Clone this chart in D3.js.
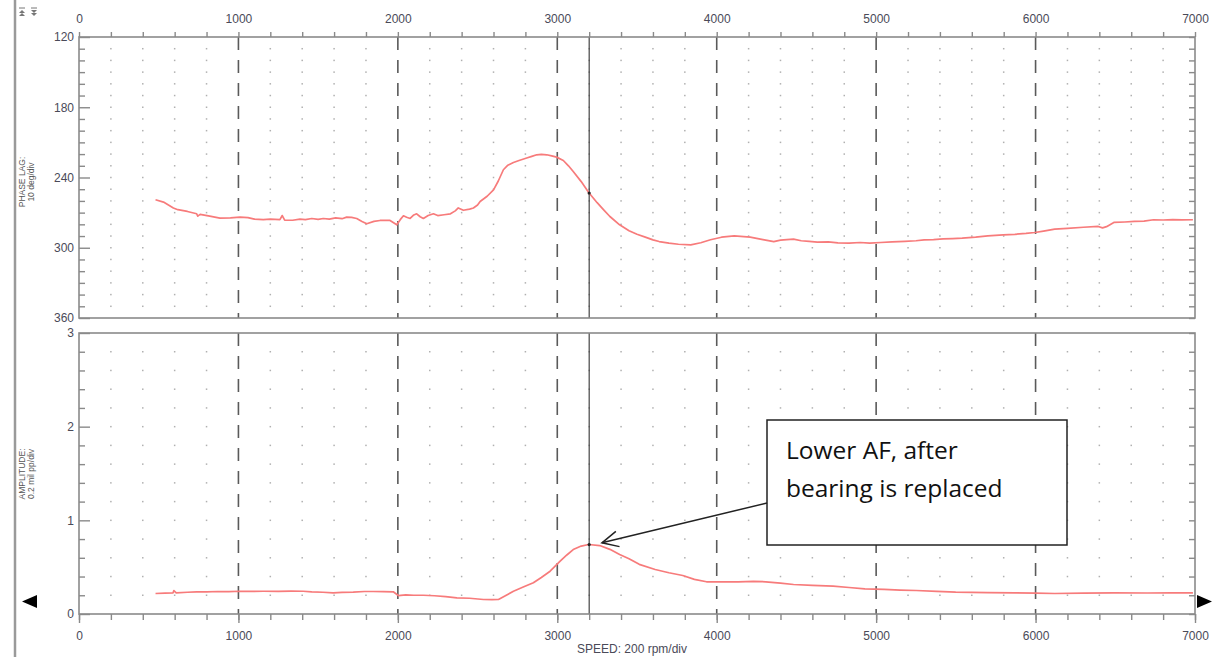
<!DOCTYPE html>
<html>
<head>
<meta charset="utf-8">
<script src="https://cdn.jsdelivr.net/npm/d3@7"></script>
<style>
  html, body { margin: 0; padding: 0; background: #fff; }
  svg { display: block; }
  .lbl { font-family: "Liberation Sans", Arial, sans-serif; font-size: 12px; fill: #4a4a58; }
</style>
</head>
<body>
<svg id="chart" width="1219" height="657"></svg>
<script>
// ---------------- data ----------------
const speedTicks = [0, 1000, 2000, 3000, 4000, 5000, 6000, 7000];
const phaseTicks = [120, 180, 240, 300, 360];
const ampTicks = [0, 1, 2, 3];
const cursorSpeed = 3200;

const phaseRpm = [480,530,592,620,680,738,745,760,820,884,950,1010,1060,1100,1156,1200,1260,1275,1290,1340,1386,1420,1460,1500,1532,1570,1610,1650,1679,1710,1742,1775,1805,1850,1888,1951,1993,2015,2035,2055,2077,2100,2118,2140,2160,2190,2223,2250,2290,2330,2360,2379,2411,2450,2474,2500,2516,2560,2600,2630,2662,2690,2725,2760,2808,2840,2871,2900,2934,2965,2996,3038,3070,3100,3150,3197,3250,3291,3330,3391,3450,3500,3552,3600,3639,3700,3760,3837,3900,3961,4030,4110,4210,4290,4358,4400,4440,4482,4530,4580,4631,4700,4760,4830,4900,4960,5028,5100,5180,5250,5301,5360,5420,5480,5540,5624,5700,5797,5870,5940,5995,6050,6120,6200,6300,6393,6420,6445,6491,6560,6620,6680,6740,6800,6860,6920,6987];
const phaseDeg = [259,261,266,267.5,269,271,273,271.5,273,274.7,274.5,273.8,274.3,275.5,276,275.5,276,272.5,276.5,276.5,275.5,276,275,275.8,275,275.6,274.5,275.2,273.8,274,275,277.5,279.5,277.5,276.7,276.7,280.4,276,272.7,274,275,272,271,273.5,275,272.5,271,272.5,271.8,271,268.5,266,268,267,266,263.5,260.5,256,250.5,243,233.4,229.5,227.2,225.5,223.4,222,220.6,220.2,220.6,221.5,222.6,225.5,230,234.9,243.5,252.8,261.5,267.6,273.3,280.4,285.5,288.5,290.9,293.3,294.7,296,297,297.5,295.7,293.2,291,289.8,290.9,293,294.7,293.5,293,292.6,294,294.5,295.2,295,295.8,296,295.5,296,295.5,295,294.5,294,293.2,293,292.5,292.2,291.8,290.9,289.8,289,288.5,287.8,287,285.8,284.1,283.5,282.5,281.8,283,282,278.4,278,277.5,277.2,276.1,276.3,276,276.2,276.1];

const ampRpm = [480,540,590,595,610,680,738,800,870,940,1010,1080,1156,1250,1330,1406,1460,1530,1594,1650,1720,1790,1845,1910,1971,2003,2050,2100,2160,2230,2300,2370,2450,2537,2590,2631,2680,2725,2790,2850,2900,2955,3018,3060,3100,3150,3197,3266,3330,3391,3450,3514,3614,3700,3787,3860,3936,4030,4135,4230,4308,4400,4482,4600,4730,4830,4929,5050,5150,5251,5380,5499,5700,5871,6000,6120,6300,6491,6700,6850,6987];
const ampVal = [0.219,0.222,0.226,0.25,0.225,0.232,0.237,0.236,0.24,0.238,0.243,0.241,0.243,0.242,0.244,0.243,0.236,0.232,0.226,0.23,0.233,0.24,0.24,0.239,0.237,0.197,0.205,0.2,0.2,0.195,0.185,0.173,0.168,0.155,0.153,0.155,0.2,0.243,0.29,0.333,0.39,0.457,0.564,0.63,0.688,0.725,0.742,0.731,0.69,0.635,0.59,0.53,0.475,0.44,0.411,0.37,0.344,0.343,0.344,0.348,0.344,0.33,0.315,0.305,0.297,0.283,0.269,0.262,0.255,0.251,0.242,0.233,0.228,0.226,0.222,0.219,0.222,0.226,0.224,0.226,0.226];

const annotationLines = ["Lower AF, after", "bearing is replaced"];

// ---------------- layout ----------------
const svg = d3.select("#chart");
const L = 79, R = 1195;
const topP = {y0: 37, y1: 318};
const botP = {y0: 333, y1: 614};
const axisColor = "#8a8a8a";
const curveColor = "#f77b7b";

const x = d3.scaleLinear().domain([0, 7000]).range([L, R]);
const yPhase = d3.scaleLinear().domain([120, 360]).range([topP.y0, topP.y1]);
const yAmp = d3.scaleLinear().domain([0, 3]).range([botP.y1, botP.y0]);

const minorX = d3.range(0, 7001, 200);
const minorPhase = d3.range(120, 361, 10);
const minorAmp = d3.range(0, 3.0001, 0.2).map(v => +v.toFixed(2));

// left frame line
svg.append("line").attr("x1", 15).attr("x2", 15).attr("y1", 0).attr("y2", 657)
  .attr("stroke", "#9a9a9a").attr("stroke-width", 2.5);

// top-left icons
function icon(cx, cy, down) {
  const g = svg.append("g").attr("transform", `translate(${cx},${cy})`);
  g.append("line").attr("x1", -3).attr("x2", 3).attr("y1", -4).attr("y2", -4).attr("stroke", "#777").attr("stroke-width", 1);
  g.append("path").attr("d", down ? "M-3,-2 L3,-2 L0,1 Z" : "M-3,1 L3,1 L0,-2 Z").attr("fill", "#777");
  g.append("path").attr("d", down ? "M-3,1 L3,1 L0,4 Z" : "M-3,4 L3,4 L0,1 Z").attr("fill", "#777");
}
icon(22, 12, false);
icon(34, 12, true);

function panel(y, p, minorY, majorY, xs, ys, yFmt) {
  const g = svg.append("g");
  // dotted grid
  const dots = [];
  minorX.forEach(sx => {
    if (sx === 0 || sx === 7000 || sx % 1000 === 0) return;
    minorY.forEach(v => {
      if (majorY[0] === v || majorY[majorY.length - 1] === v) return;
      dots.push([sx, v]);
    });
  });
  g.selectAll("rect.dot").data(dots).enter().append("rect")
    .attr("x", d => x(d[0]) - 0.75).attr("y", d => y(d[1]) - 0.75)
    .attr("width", 1.5).attr("height", 1.5).attr("fill", "#b0b0b0");
  // dashed verticals
  g.selectAll("line.dash").data(speedTicks.slice(1, -1)).enter().append("line")
    .attr("x1", d => x(d)).attr("x2", d => x(d))
    .attr("y1", p.y0).attr("y2", p.y1)
    .attr("stroke", "#5a5a5a").attr("stroke-width", 1.6).attr("stroke-dasharray", "13,10");
  // cursor
  g.append("line").attr("x1", x(cursorSpeed)).attr("x2", x(cursorSpeed))
    .attr("y1", p.y0).attr("y2", p.y1).attr("stroke", "#333").attr("stroke-width", 1.1);
  // curve
  const line = d3.line().x((d, i) => x(xs[i])).y((d, i) => y(ys[i]));
  g.append("path").datum(xs).attr("d", line).attr("fill", "none")
    .attr("stroke", curveColor).attr("stroke-width", 1.7).attr("stroke-linejoin", "round");
  // cursor marker
  const cv = d3.scaleLinear().domain(xs).range(ys)(cursorSpeed);
  g.append("circle").attr("cx", x(cursorSpeed)).attr("cy", y(cv)).attr("r", 1.6).attr("fill", "#222");
  // box
  g.append("rect").attr("x", L).attr("y", p.y0).attr("width", R - L).attr("height", p.y1 - p.y0)
    .attr("fill", "none").attr("stroke", axisColor).attr("stroke-width", 1.6);
  // left ticks inward
  const minorOnly = minorY.filter(v => !majorY.includes(v));
  svg.append("g").attr("transform", `translate(${L},0)`)
    .call(d3.axisRight(y).tickValues(minorOnly).tickSize(6).tickFormat(""))
    .call(s => s.select(".domain").remove())
    .call(s => s.selectAll("line").attr("stroke", axisColor).attr("stroke-width", 1.4));
  svg.append("g").attr("transform", `translate(${L},0)`)
    .call(d3.axisRight(y).tickValues(majorY).tickSize(11).tickFormat(""))
    .call(s => s.select(".domain").remove())
    .call(s => s.selectAll("line").attr("stroke", axisColor).attr("stroke-width", 1.4));
  // labels left
  svg.append("g").attr("transform", `translate(${L},0)`)
    .call(d3.axisLeft(y).tickValues(majorY).tickSize(0).tickPadding(5).tickFormat(yFmt))
    .call(s => s.select(".domain").remove())
    .call(s => s.selectAll("text").attr("class", "lbl").attr("fill", null).attr("font-size", null).attr("font-family", null));
  // right ticks inward
  svg.append("g").attr("transform", `translate(${R},0)`)
    .call(d3.axisLeft(y).tickValues(minorY).tickSize(6).tickFormat(""))
    .call(s => s.select(".domain").remove())
    .call(s => s.selectAll("line").attr("stroke", axisColor).attr("stroke-width", 1.4));
}

panel(yPhase, topP, minorPhase, phaseTicks, phaseRpm, phaseDeg, d3.format("d"));
panel(yAmp, botP, minorAmp, ampTicks, ampRpm, ampVal, d3.format("d"));

// top x axis
svg.append("g").attr("transform", `translate(0,${topP.y0})`)
  .call(d3.axisTop(x).tickValues(minorX).tickSize(5).tickFormat(""))
  .call(s => s.select(".domain").remove())
  .call(s => s.selectAll("line").attr("stroke", axisColor).attr("stroke-width", 1.4));
svg.append("g").attr("transform", `translate(0,${topP.y0})`)
  .call(d3.axisTop(x).tickValues(speedTicks).tickSize(0).tickPadding(14).tickFormat(d3.format("d")))
  .call(s => s.select(".domain").remove())
  .call(s => s.selectAll("text").attr("class", "lbl").attr("fill", null).attr("font-size", null).attr("font-family", null));

// bottom x axis
svg.append("g").attr("transform", `translate(0,${botP.y1})`)
  .call(d3.axisBottom(x).tickValues(minorX).tickSize(6).tickFormat(""))
  .call(s => s.select(".domain").remove())
  .call(s => s.selectAll("line").attr("stroke", axisColor).attr("stroke-width", 1.4));
svg.append("g").attr("transform", `translate(0,${botP.y1})`)
  .call(d3.axisBottom(x).tickValues(speedTicks).tickSize(9).tickPadding(8).tickFormat(d3.format("d")))
  .call(s => s.select(".domain").remove())
  .call(s => s.selectAll("line").attr("stroke", axisColor).attr("stroke-width", 1.4))
  .call(s => s.selectAll("text").attr("class", "lbl").attr("fill", null).attr("font-size", null).attr("font-family", null));

svg.append("text").attr("class", "lbl").attr("x", (x(3000) + x(4000)) / 2 - 5).attr("y", 653)
  .attr("text-anchor", "middle").text("SPEED: 200 rpm/div");

// rotated y titles
function ytitle(cy, l1, l2) {
  const g = svg.append("g").attr("transform", `translate(0,${cy})`);
  g.append("text").attr("transform", "translate(25,0) rotate(-90)").attr("text-anchor", "middle")
    .attr("font-family", "Liberation Sans, Arial, sans-serif").attr("font-size", 8.5).attr("fill", "#555").text(l1);
  g.append("text").attr("transform", "translate(34,0) rotate(-90)").attr("text-anchor", "middle")
    .attr("font-family", "Liberation Sans, Arial, sans-serif").attr("font-size", 8.5).attr("fill", "#555").text(l2);
}
ytitle(182, "PHASE LAG:", "10 deg/div");
ytitle(474, "AMPLITUDE:", "0.2 mil pp/div");

// side arrows
svg.append("path").attr("d", "M22,601.5 L37,595 L37,608 Z").attr("fill", "#000");
svg.append("path").attr("d", "M1212,601.5 L1197,595 L1197,608 Z").attr("fill", "#000");

// annotation
const box = {x: 767, y: 420, w: 300, h: 125};
svg.append("rect").attr("x", box.x).attr("y", box.y).attr("width", box.w).attr("height", box.h)
  .attr("fill", "#fff").attr("stroke", "#222").attr("stroke-width", 1.5);
svg.append("text").attr("x", box.x + 19).attr("y", box.y + 39)
  .attr("font-family", "Open Sans, sans-serif").attr("font-size", 24.5).attr("fill", "#111").text(annotationLines[0]);
svg.append("text").attr("x", box.x + 19).attr("y", box.y + 77)
  .attr("font-family", "Open Sans, sans-serif").attr("font-size", 24.5).attr("fill", "#111").text(annotationLines[1]);
const tip = [x(3280), yAmp(0.76)];
const tail = [box.x, box.y + 83];
svg.append("line").attr("x1", tail[0]).attr("y1", tail[1]).attr("x2", tip[0]).attr("y2", tip[1])
  .attr("stroke", "#222").attr("stroke-width", 1.5);
const ang = Math.atan2(tail[1] - tip[1], tail[0] - tip[0]);
const hl = 18, ha = 0.45;
svg.append("path").attr("d",
  `M${tip[0] + hl * Math.cos(ang + ha)},${tip[1] + hl * Math.sin(ang + ha)} L${tip[0]},${tip[1]} L${tip[0] + hl * Math.cos(ang - ha)},${tip[1] + hl * Math.sin(ang - ha)}`)
  .attr("fill", "none").attr("stroke", "#222").attr("stroke-width", 1.5);
</script>
</body>
</html>
